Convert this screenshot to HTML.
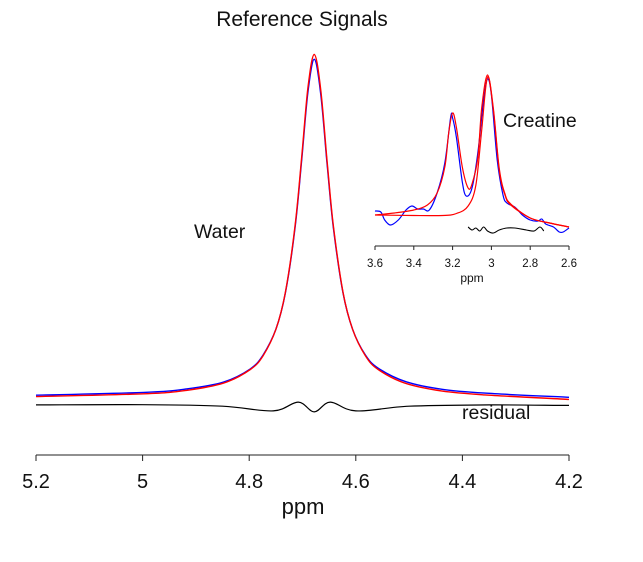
<!DOCTYPE html>
<html><head><meta charset="utf-8"><style>
html,body{margin:0;padding:0;background:#fff}
svg{display:block;font-family:"Liberation Sans",Arial,sans-serif}
</style></head><body>
<svg id="chart" width="643" height="562" viewBox="0 0 643 562" xmlns="http://www.w3.org/2000/svg">
<text x="302" y="26" text-anchor="middle" font-size="21" fill="#111">Reference Signals</text>
<text x="194" y="238" font-size="19.5" fill="#111">Water</text>
<text x="503" y="127" font-size="19.5" fill="#111">Creatine</text>
<text x="462" y="419" font-size="19.5" fill="#111">residual</text>
<g id="main-axis"></g>
<g id="main-series"></g>
<g id="inset-axis"></g>
<g id="inset-series"></g>
<text x="303" y="514" text-anchor="middle" font-size="22" fill="#111">ppm</text>
<text x="472" y="282" text-anchor="middle" font-size="12" fill="#111">ppm</text>
</svg>
<script>
// main chart data
const mainTicks = [5.2, 5, 4.8, 4.6, 4.4, 4.2];
const mainTickLabels = ["5.2", "5", "4.8", "4.6", "4.4", "4.2"];
const waterPpm = [5.2, 4.998, 4.918, 4.848, 4.798, 4.774, 4.75, 4.732, 4.714, 4.702, 4.69, 4.678, 4.666, 4.654, 4.642, 4.624, 4.606, 4.582, 4.558, 4.508, 4.438, 4.358, 4.2];
const waterFit = [2.4, 3.2, 4.2, 6.3, 10.2, 14.2, 21.8, 32.5, 51.5, 70.5, 91.1, 101, 91.1, 70.5, 51.5, 32.5, 21.8, 14.2, 10.2, 6.3, 4.0, 2.9, 1.6];
const waterObs = [2.8, 3.6, 4.6, 6.6, 10.4, 14.4, 21.8, 32.3, 51.0, 69.7, 89.9, 99.6, 89.9, 69.7, 51.0, 32.3, 21.8, 14.4, 10.6, 6.8, 4.5, 3.4, 2.2];
const residPpm = [5.2, 5.0, 4.85, 4.755, 4.708, 4.678, 4.648, 4.6, 4.5, 4.35, 4.2];
const residVals = [0.8, 0.9, 0.3, -1.5, 1.9, -1.9, 1.9, -1.5, 0.3, 0.8, 0.6];
// inset data
const insetTicks = [3.6, 3.4, 3.2, 3, 2.8, 2.6];
const insetTickLabels = ["3.6", "3.4", "3.2", "3", "2.8", "2.6"];
const fitPpm = [3.6, 3.5, 3.4, 3.33, 3.28, 3.24, 3.22, 3.2, 3.18, 3.15, 3.12, 3.10, 3.07, 3.05, 3.02, 2.99, 2.96, 2.93, 2.9, 2.8, 2.7, 2.6];
const fitTotal = [15, 17, 20, 25, 37, 63, 97, 117, 102, 63, 42, 46, 72, 122, 155, 122, 62, 36, 26, 12, 7, 3];
const compPpm = [3.6, 3.4, 3.25, 3.18, 3.12, 3.08, 3.05, 3.02, 2.99, 2.96, 2.93, 2.9, 2.8, 2.7, 2.6];
const compVals = [15, 14.5, 14.5, 16.5, 24, 45, 100, 153, 120, 60, 35, 25, 12, 7, 3];
const obsPpm = [3.6, 3.57, 3.55, 3.52, 3.48, 3.44, 3.41, 3.38, 3.35, 3.32, 3.28, 3.24, 3.21, 3.2, 3.18, 3.15, 3.13, 3.1, 3.07, 3.04, 3.02, 3.0, 2.97, 2.94, 2.92, 2.88, 2.84, 2.8, 2.76, 2.74, 2.72, 2.68, 2.65, 2.63, 2.6];
const obsVals = [19, 18, 10, 5, 10, 20, 24, 21, 21, 20, 37, 67, 113, 112, 92, 48, 34, 42, 77, 130, 151, 135, 70, 35, 27, 23, 15, 10, 9, 11, 6, 3, -2, -2, 2];
const insResPpm = [3.12, 3.1, 3.08, 3.06, 3.04, 3.02, 2.99, 2.96, 2.92, 2.88, 2.82, 2.78, 2.75, 2.73];
const insResVals = [3, 0, 2, -1, 3, -1, -3, 0, 2, 2, 0, -1, 3, -1];

const NS = "http://www.w3.org/2000/svg";
const mx = p => 36 + (5.2 - p) * 533;
const my = v => 398 - (v - 2) * 3.47;
const ry = v => 407 - v * 2.6;
const ix = p => 375 + (3.6 - p) * 194;
const iy = v => 230 - v;

function smoothPath(xs, ys) {
  const pts = xs.map((x, i) => [x, ys[i]]);
  let d = "M" + pts[0][0].toFixed(1) + "," + pts[0][1].toFixed(1);
  for (let i = 0; i < pts.length - 1; i++) {
    const p0 = pts[Math.max(0, i - 1)], p1 = pts[i], p2 = pts[i + 1], p3 = pts[Math.min(pts.length - 1, i + 2)];
    const c1 = [p1[0] + (p2[0] - p0[0]) / 6, p1[1] + (p2[1] - p0[1]) / 6];
    const c2 = [p2[0] - (p3[0] - p1[0]) / 6, p2[1] - (p3[1] - p1[1]) / 6];
    d += " C" + c1.map(n => n.toFixed(1)).join(",") + " " + c2.map(n => n.toFixed(1)).join(",") + " " + p2[0].toFixed(1) + "," + p2[1].toFixed(1);
  }
  return d;
}
function addPath(g, d, color, w, name) {
  const el = document.createElementNS(NS, "path");
  el.setAttribute("d", d);
  el.setAttribute("fill", "none");
  el.setAttribute("stroke", color);
  el.setAttribute("stroke-width", w);
  
  
  g.appendChild(el);
}
function addLine(g, x1, y1, x2, y2, name) {
  const el = document.createElementNS(NS, "line");
  el.setAttribute("x1", x1); el.setAttribute("y1", y1);
  el.setAttribute("x2", x2); el.setAttribute("y2", y2);
  el.setAttribute("stroke", "#222");
  el.setAttribute("stroke-width", 1);
  
  
  g.appendChild(el);
}
function addText(g, x, y, s, size, name) {
  const el = document.createElementNS(NS, "text");
  el.setAttribute("x", x); el.setAttribute("y", y);
  el.setAttribute("text-anchor", "middle");
  el.setAttribute("font-size", size);
  el.setAttribute("fill", "#111");
  el.textContent = s;
  
  
  g.appendChild(el);
}

const ma = document.getElementById("main-axis");
addLine(ma, mx(5.2), 455, mx(4.2), 455, "main-axis-line");
mainTicks.forEach((t, i) => {
  addLine(ma, mx(t), 455, mx(t), 461, "main-tick");
  addText(ma, mx(t), 488, mainTickLabels[i], 20, "main-tick-label");
});
const ms = document.getElementById("main-series");
addPath(ms, smoothPath(residPpm.map(mx), residVals.map(ry)), "#000", 1.2, "main-residual-line");
addPath(ms, smoothPath(waterPpm.map(mx), waterObs.map(my)), "#0000ff", 1.4, "water-observed-line");
addPath(ms, smoothPath(waterPpm.map(mx), waterFit.map(my)), "#ff0000", 1.4, "water-fit-line");

const ia = document.getElementById("inset-axis");
addLine(ia, ix(3.6), 246, ix(2.6), 246, "inset-axis-line");
insetTicks.forEach((t, i) => {
  addLine(ia, ix(t), 246, ix(t), 250, "inset-tick");
  addText(ia, ix(t), 267, insetTickLabels[i], 11.5, "inset-tick-label");
});
const is = document.getElementById("inset-series");
addPath(is, smoothPath(insResPpm.map(ix), insResVals.map(iy)), "#000", 1.1, "inset-residual-line");
addPath(is, smoothPath(obsPpm.map(ix), obsVals.map(iy)), "#0000ff", 1.2, "creatine-observed-line");
addPath(is, smoothPath(compPpm.map(ix), compVals.map(iy)), "#ff0000", 1.2, "creatine-component-line");
addPath(is, smoothPath(fitPpm.map(ix), fitTotal.map(iy)), "#ff0000", 1.2, "creatine-fit-line");
</script>
</body></html>
